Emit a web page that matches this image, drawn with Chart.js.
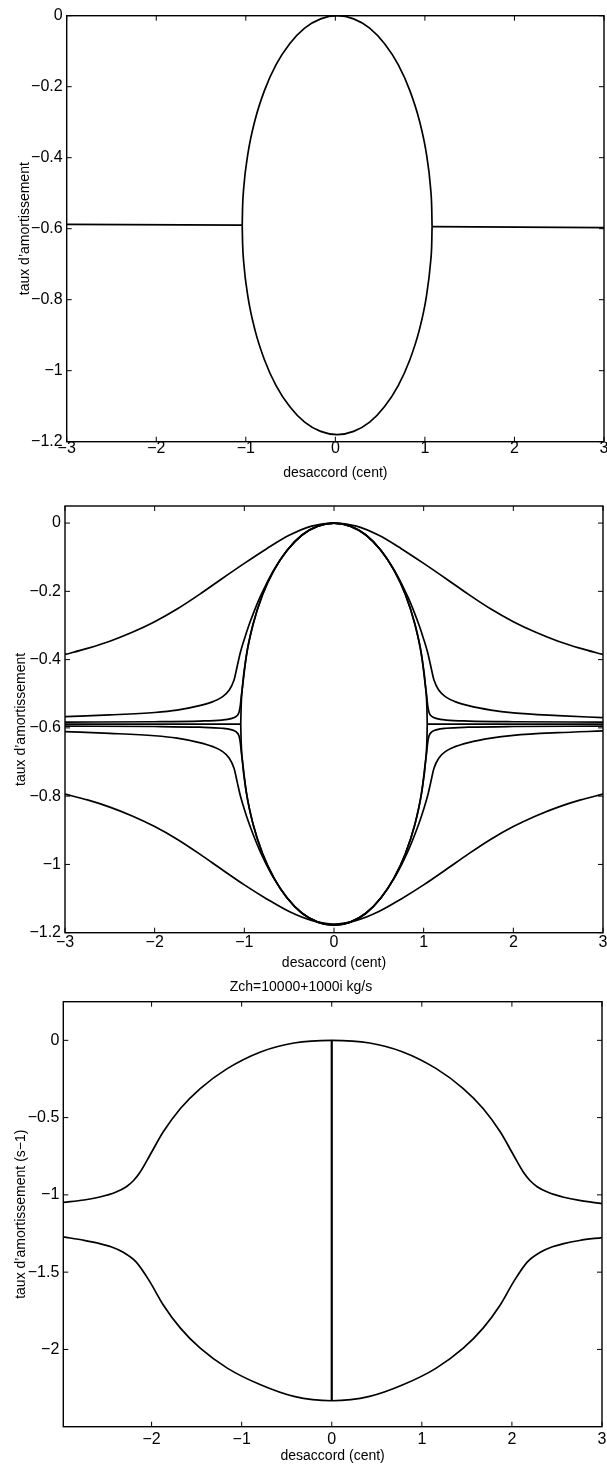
<!DOCTYPE html>
<html>
<head>
<meta charset="utf-8">
<script src="https://cdn.jsdelivr.net/npm/chart.js@4.4.1/dist/chart.umd.min.js"></script>
<style>
  html, body { margin: 0; padding: 0; background: #fff; overflow: hidden; }
  body { width: 607px; height: 1466px; position: relative; }
  canvas { position: absolute; left: 0; }
</style>
</head>
<body>
<canvas id="chart1" width="620" height="490" style="top:0px"></canvas>
<canvas id="chart2" width="620" height="485" style="top:490px"></canvas>
<canvas id="chart3" width="620" height="491" style="top:975px"></canvas>
<script>
// ---- tick labels ----
const xTicks = [-3, -2, -1, 0, 1, 2, 3];
const xTicks3 = [-2, -1, 0, 1, 2, 3];
const yTicks12 = [0, -0.2, -0.4, -0.6, -0.8, -1, -1.2];
const yTicks3 = [0, -0.5, -1, -1.5, -2];

// ---- panel 1 : flat branch + ellipse ----
const p1LeftLine = [[-3, -0.588], [-1.04, -0.590]];
const p1RightLine = [[1.08, -0.594], [3, -0.597]];
const p1EllipseTop = [[-1.04, -0.59], [-1.036, -0.54], [-1.024, -0.487], [-0.976, -0.388], [-0.898, -0.295], [-0.792, -0.211],
  [-0.662, -0.138], [-0.51, -0.079], [-0.343, -0.035], [-0.164, -0.009], [0.02, 0], [0.204, -0.009],
  [0.383, -0.035], [0.55, -0.079], [0.702, -0.138], [0.832, -0.211], [0.938, -0.295], [1.016, -0.388],
  [1.064, -0.487], [1.076, -0.54], [1.08, -0.594]];
const p1EllipseBottom = [[-1.04, -0.59], [-1.036, -0.64], [-1.024, -0.693], [-0.976, -0.792], [-0.898, -0.885], [-0.792, -0.969],
  [-0.662, -1.042], [-0.51, -1.101], [-0.343, -1.145], [-0.164, -1.171], [0.02, -1.18], [0.204, -1.171],
  [0.383, -1.145], [0.55, -1.101], [0.702, -1.042], [0.832, -0.969], [0.938, -0.885], [1.016, -0.792],
  [1.064, -0.693], [1.076, -0.645], [1.08, -0.594]];

// ---- panel 2 : family of branches ----
const p2OuterX = [-3, -2.75, -2.5, -2.25, -2, -1.75, -1.5, -1.25, -1, -0.75, -0.5, -0.25, 0,
  0.25, 0.5, 0.75, 1, 1.25, 1.5, 1.75, 2, 2.25, 2.5, 2.75, 3];
const p2OuterTop = [-0.385, -0.367, -0.346, -0.32, -0.289, -0.252, -0.209, -0.163, -0.118, -0.075, -0.036, -0.009, 0,
  -0.009, -0.036, -0.075, -0.118, -0.163, -0.209, -0.252, -0.289, -0.32, -0.346, -0.367, -0.385];
const p2OuterBottom = [-0.794, -0.811, -0.832, -0.858, -0.889, -0.926, -0.969, -1.015, -1.06, -1.101, -1.138, -1.164, -1.175,
  -1.164, -1.138, -1.101, -1.06, -1.015, -0.969, -0.926, -0.889, -0.858, -0.832, -0.811, -0.794];

const p2InnerTop = [[-3, -0.567], [-2.5, -0.562], [-2, -0.555], [-1.75, -0.548], [-1.5, -0.535], [-1.35, -0.523],
  [-1.25, -0.51], [-1.17, -0.49], [-1.115, -0.46], [-1.08, -0.42], [-1.045, -0.38], [-1.0, -0.34], [-0.95, -0.3],
  [-0.893, -0.26], [-0.83, -0.22], [-0.758, -0.18], [-0.672, -0.138], [-0.52, -0.079], [-0.356, -0.035],
  [-0.181, -0.009], [0, 0], [0.181, -0.009], [0.356, -0.035], [0.52, -0.079], [0.672, -0.138], [0.758, -0.18],
  [0.83, -0.22], [0.893, -0.26], [0.95, -0.3], [1.0, -0.34], [1.045, -0.38], [1.08, -0.42], [1.115, -0.46],
  [1.17, -0.49], [1.25, -0.51], [1.35, -0.523], [1.5, -0.535], [1.75, -0.548], [2, -0.556], [2.5, -0.564], [3, -0.57]];
const p2InnerBottom = [[-3, -0.611], [-2.5, -0.616], [-2, -0.623], [-1.75, -0.63], [-1.5, -0.643], [-1.35, -0.655],
  [-1.25, -0.668], [-1.17, -0.688], [-1.115, -0.718], [-1.08, -0.758], [-1.045, -0.798], [-1.0, -0.838], [-0.95, -0.878],
  [-0.893, -0.918], [-0.83, -0.958], [-0.758, -0.998], [-0.672, -1.04], [-0.52, -1.099], [-0.356, -1.143],
  [-0.181, -1.169], [0, -1.178], [0.181, -1.169], [0.356, -1.143], [0.52, -1.099], [0.672, -1.04], [0.758, -0.998],
  [0.83, -0.958], [0.893, -0.918], [0.95, -0.878], [1.0, -0.838], [1.045, -0.798], [1.08, -0.758], [1.115, -0.718],
  [1.17, -0.688], [1.25, -0.668], [1.35, -0.655], [1.5, -0.643], [1.75, -0.63], [2, -0.622], [2.5, -0.614], [3, -0.609]];

const p2HookTop = [[-3, -0.583], [-2, -0.582], [-1.5, -0.58], [-1.25, -0.577], [-1.15, -0.573], [-1.09, -0.566],
  [-1.06, -0.555], [-1.045, -0.535], [-1.035, -0.51], [-1.024, -0.487], [-0.977, -0.388], [-0.901, -0.295],
  [-0.797, -0.21], [-0.669, -0.138], [-0.52, -0.079], [-0.356, -0.035], [-0.181, -0.009], [0, 0],
  [0.181, -0.009], [0.356, -0.035], [0.52, -0.079], [0.669, -0.138], [0.797, -0.21], [0.901, -0.295],
  [0.977, -0.388], [1.024, -0.487], [1.035, -0.51], [1.045, -0.535], [1.06, -0.555], [1.09, -0.566],
  [1.15, -0.573], [1.25, -0.577], [1.5, -0.58], [2, -0.582], [3, -0.583]];
const p2HookBottom = [[-3, -0.595], [-2, -0.596], [-1.5, -0.598], [-1.25, -0.601], [-1.15, -0.605], [-1.09, -0.612],
  [-1.06, -0.623], [-1.045, -0.643], [-1.035, -0.668], [-1.024, -0.691], [-0.977, -0.79], [-0.901, -0.884],
  [-0.797, -0.968], [-0.669, -1.04], [-0.52, -1.099], [-0.356, -1.143], [-0.181, -1.169], [0, -1.178],
  [0.181, -1.169], [0.356, -1.143], [0.52, -1.099], [0.669, -1.04], [0.797, -0.968], [0.901, -0.884],
  [0.977, -0.79], [1.024, -0.691], [1.035, -0.668], [1.045, -0.643], [1.06, -0.623], [1.09, -0.612],
  [1.15, -0.605], [1.25, -0.601], [1.5, -0.598], [2, -0.596], [3, -0.595]];

const p2FlatLeft = [[-3, -0.589], [-1.04, -0.589]];
const p2FlatRight = [[1.04, -0.589], [3, -0.589]];
const p2EllipseTop = [[-1.04, -0.589], [-1.036, -0.54], [-1.024, -0.487], [-0.977, -0.388], [-0.901, -0.295], [-0.797, -0.21],
  [-0.669, -0.138], [-0.52, -0.079], [-0.356, -0.035], [-0.181, -0.009], [0, 0], [0.181, -0.009], [0.356, -0.035],
  [0.52, -0.079], [0.669, -0.138], [0.797, -0.21], [0.901, -0.295], [0.977, -0.388], [1.024, -0.487], [1.036, -0.54], [1.04, -0.589]];
const p2EllipseBottom = [[-1.04, -0.589], [-1.036, -0.638], [-1.024, -0.691], [-0.977, -0.79], [-0.901, -0.884], [-0.797, -0.968],
  [-0.669, -1.04], [-0.52, -1.099], [-0.356, -1.143], [-0.181, -1.169], [0, -1.178], [0.181, -1.169], [0.356, -1.143],
  [0.52, -1.099], [0.669, -1.04], [0.797, -0.968], [0.901, -0.884], [0.977, -0.79], [1.024, -0.691], [1.036, -0.638], [1.04, -0.589]];

// ---- panel 3 : Zch = 10000+1000i kg/s ----
const p3Top = [[-2.98, -1.048], [-2.75, -1.033], [-2.575, -1.014], [-2.4, -0.983], [-2.28, -0.947], [-2.2, -0.907],
  [-2.13, -0.855], [-2.02, -0.745], [-1.87, -0.592], [-1.68, -0.441], [-1.46, -0.312], [-1.16, -0.183],
  [-0.79, -0.075], [-0.42, -0.017], [0, 0], [0.42, -0.017], [0.79, -0.075], [1.16, -0.183], [1.46, -0.312],
  [1.68, -0.441], [1.87, -0.592], [2.02, -0.745], [2.13, -0.855], [2.2, -0.907], [2.28, -0.947], [2.4, -0.983],
  [2.575, -1.015], [2.75, -1.036], [3, -1.056]];
const p3Bottom = [[-2.98, -1.272], [-2.75, -1.294], [-2.575, -1.315], [-2.45, -1.336], [-2.32, -1.37], [-2.17, -1.435],
  [-2.02, -1.561], [-1.87, -1.712], [-1.68, -1.862], [-1.46, -1.992], [-1.16, -2.121], [-0.79, -2.229],
  [-0.42, -2.304], [0, -2.332], [0.42, -2.304], [0.79, -2.229], [1.16, -2.121], [1.46, -1.992], [1.68, -1.862],
  [1.87, -1.712], [2.02, -1.561], [2.17, -1.435], [2.32, -1.37], [2.45, -1.336], [2.575, -1.315], [2.75, -1.295],
  [3, -1.276]];
const p3Center = [[0, 0], [0, -2.332]];

const FONT = "'Liberation Sans', Arial, Helvetica, sans-serif";

function fmt(v) {
  if (Math.abs(v) < 1e-9) return "0";
  return String(+v.toFixed(2)).replace("-", "\u2212");
}

function line(points, width) {
  return {
    data: points.map(p => ({ x: p[0], y: p[1] })),
    showLine: true,
    borderColor: "#000",
    borderWidth: width || 1.7,
    pointRadius: 0,
    cubicInterpolationMode: "monotone",
    fill: false
  };
}

function xyLine(xs, ys) {
  return line(xs.map((x, i) => [x, ys[i]]));
}

// box round the plot and inward tick marks, like the matlab axes
const boxPlugin = {
  id: "box",
  afterDatasetsDraw(chart) {
    const { ctx, chartArea: a, scales } = chart;
    const len = 5;
    ctx.save();
    ctx.strokeStyle = "#000";
    ctx.lineWidth = 1.4;
    ctx.strokeRect(a.left, a.top, a.right - a.left, a.bottom - a.top);
    ctx.lineWidth = 1;
    ctx.beginPath();
    scales.x.ticks.forEach(t => {
      const px = scales.x.getPixelForValue(t.value);
      ctx.moveTo(px, a.bottom); ctx.lineTo(px, a.bottom - len);
      ctx.moveTo(px, a.top); ctx.lineTo(px, a.top + len);
    });
    scales.y.ticks.forEach(t => {
      const py = scales.y.getPixelForValue(t.value);
      ctx.moveTo(a.left, py); ctx.lineTo(a.left + len, py);
      ctx.moveTo(a.right, py); ctx.lineTo(a.right - len, py);
    });
    ctx.stroke();
    ctx.restore();
  }
};

function makeChart(id, opt) {
  const ctx = document.getElementById(id).getContext("2d");
  return new Chart(ctx, {
    type: "scatter",
    data: { datasets: opt.datasets },
    plugins: [boxPlugin],
    options: {
      responsive: false,
      animation: false,
      events: [],
      layout: { padding: opt.padding },
      plugins: {
        legend: { display: false },
        tooltip: { enabled: false },
        title: opt.title ? {
          display: true,
          text: opt.title,
          color: "#000",
          font: { family: FONT, size: 14, weight: "normal" },
          padding: { top: 3.3, bottom: 6.6 }
        } : { display: false }
      },
      scales: {
        x: {
          type: "linear",
          min: opt.xMin,
          max: opt.xMax,
          grid: { display: false, drawTicks: false },
          border: { display: false },
          afterBuildTicks: s => { s.ticks = opt.xTicks.map(v => ({ value: v })); },
          afterFit: s => { s.height = opt.xHeight; },
          ticks: {
            color: "#000",
            padding: opt.xTickPad,
            maxRotation: 0,
            font: { family: FONT, size: 16 },
            callback: v => fmt(v)
          },
          title: {
            display: true,
            text: "desaccord (cent)",
            color: "#000",
            font: { family: FONT, size: 14 },
            padding: { top: 0, bottom: opt.xTitlePad }
          }
        },
        y: {
          type: "linear",
          min: opt.yMin,
          max: opt.yMax,
          grid: { display: false, drawTicks: false },
          border: { display: false },
          afterBuildTicks: s => { s.ticks = opt.yTicks.map(v => ({ value: v })); },
          afterFit: s => { s.width = opt.yWidth; },
          ticks: {
            color: "#000",
            padding: 4,
            font: { family: FONT, size: 16 },
            callback: v => fmt(v)
          },
          title: {
            display: true,
            text: opt.yTitle,
            color: "#000",
            font: { family: FONT, size: 14 },
            padding: { top: opt.yTitlePad, bottom: 0 }
          }
        }
      }
    }
  });
}

// Panel 1
makeChart("chart1", {
  datasets: [line(p1LeftLine), line(p1RightLine), line(p1EllipseTop), line(p1EllipseBottom)],
  padding: { left: 0, top: 15.7, right: 16, bottom: 0 },
  xMin: -3, xMax: 3, xTicks: xTicks,
  yMin: -1.2, yMax: 0, yTicks: yTicks12,
  xHeight: 48.3, xTickPad: -3, xTitlePad: 8.6,
  yWidth: 66.7, yTitlePad: 16.6,
  yTitle: "taux d\u2019amortissement"
});

// Panel 2
makeChart("chart2", {
  datasets: [
    xyLine(p2OuterX, p2OuterTop), xyLine(p2OuterX, p2OuterBottom),
    line(p2InnerTop), line(p2InnerBottom),
    line(p2HookTop), line(p2HookBottom),
    line(p2FlatLeft), line(p2FlatRight),
    line(p2EllipseTop), line(p2EllipseBottom)
  ],
  padding: { left: 0, top: 16, right: 17, bottom: 0 },
  xMin: -3, xMax: 3, xTicks: xTicks,
  yMin: -1.2, yMax: 0.05, yTicks: yTicks12,
  xHeight: 42.3, xTickPad: 0.5, xTitlePad: 3.6,
  yWidth: 65, yTitlePad: 12.6,
  yTitle: "taux d\u2019amortissement"
});

// Panel 3
makeChart("chart3", {
  datasets: [line(p3Top), line(p3Bottom), line(p3Center, 2.2)],
  title: "Zch=10000+1000i kg/s",
  padding: { left: 0, top: 0, right: 18, bottom: 0 },
  xMin: -2.98, xMax: 3, xTicks: xTicks3,
  yMin: -2.5, yMax: 0.25, yTicks: yTicks3,
  xHeight: 39.3, xTickPad: 3, xTitlePad: 1.6,
  yWidth: 63.3, yTitlePad: 12.6,
  yTitle: "taux d\u2019amortissement (s\u22121)"
});
</script>
</body>
</html>
